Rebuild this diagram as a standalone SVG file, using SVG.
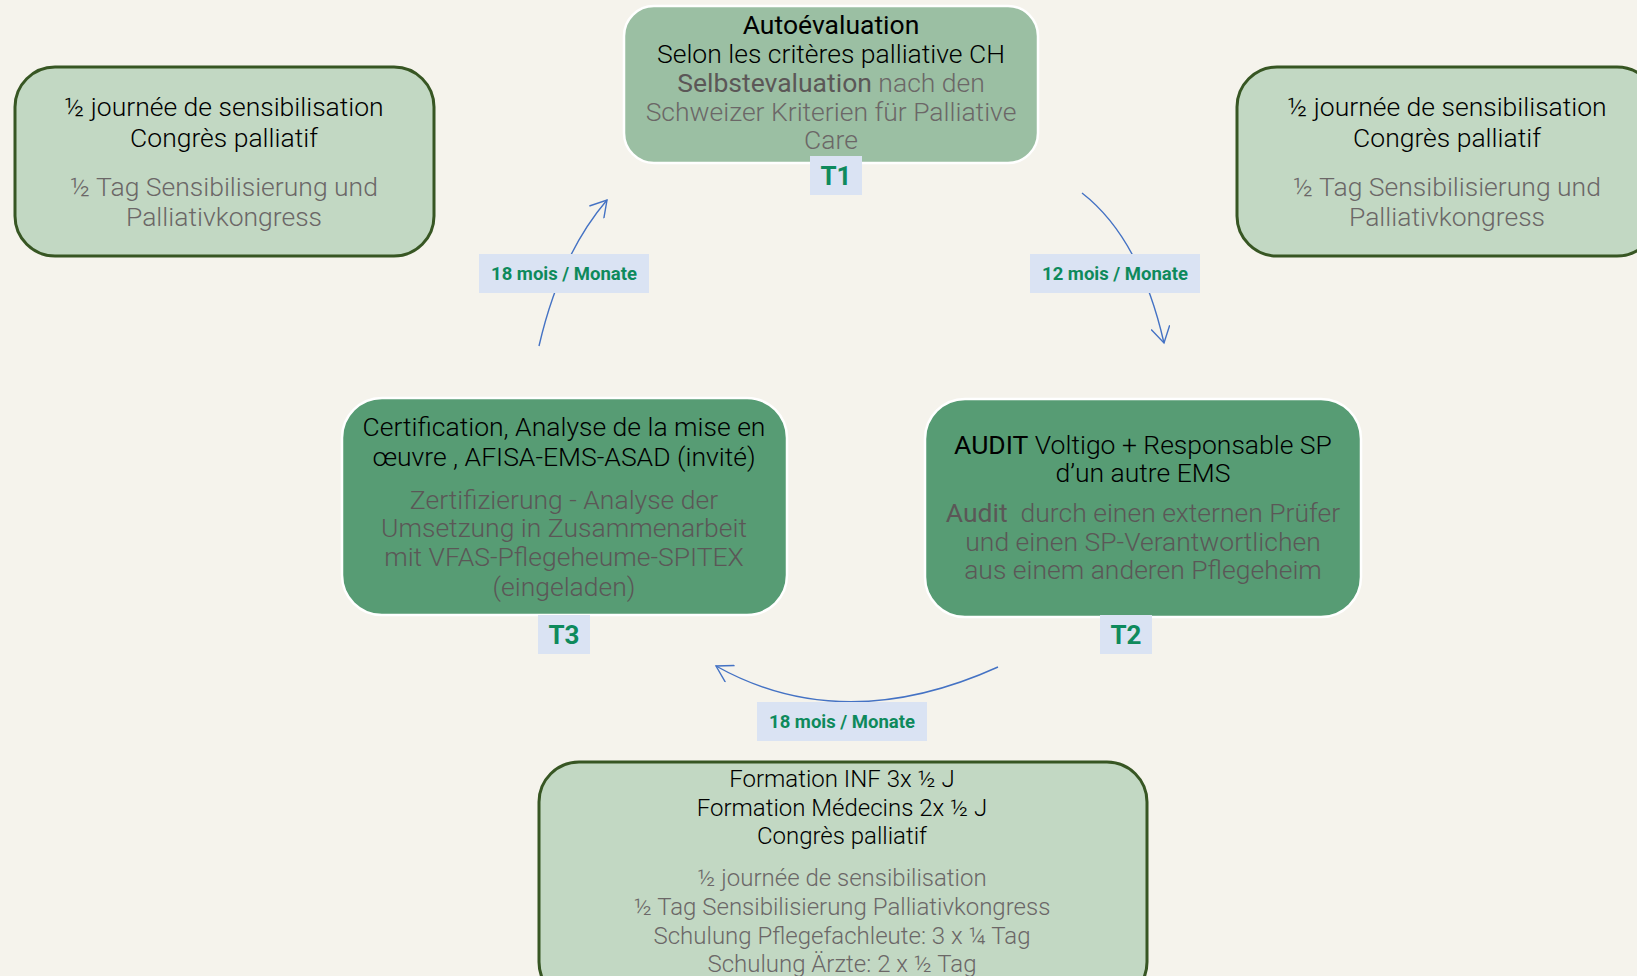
<svg xmlns="http://www.w3.org/2000/svg" width="1637" height="976" viewBox="0 0 1637 976">
<defs>
<style>
.bg{fill:#f5f3ec}
.light{fill:#c2d8c3;stroke:#375623;stroke-width:3}
.mid{fill:#9bbfa3;stroke:#ffffff;stroke-width:2.5}
.dark{fill:#579c74;stroke:#ffffff;stroke-width:2.5}
.tag{fill:#dae3f3}
.t{font-family:Roboto,"Liberation Sans",sans-serif;font-size:26.5px;font-weight:300;text-anchor:middle}
.s{font-size:24px}
.k{fill:#000000}
.g{fill:#6b6767}
.g2{fill:#5b5757}
.b{font-weight:400}
.tl{font-family:Roboto,"Liberation Sans",sans-serif;font-size:26px;font-weight:700;fill:#0e8a5c;text-anchor:middle}
.lb{font-family:Roboto,"Liberation Sans",sans-serif;font-size:18.5px;font-weight:700;fill:#0e8a5c;text-anchor:middle}
.c{fill:none;stroke:#4472c4;stroke-width:1.4}
</style>
<marker id="ah" viewBox="0 0 20 20" refX="18" refY="10" markerWidth="20" markerHeight="20" markerUnits="userSpaceOnUse" orient="auto">
<path d="M2,0.5 L18,10 L2,19.5" fill="none" stroke="#4472c4" stroke-width="1.4"/>
</marker>
</defs>
<rect class="bg" x="0" y="0" width="1637" height="976"/>

<g id="connectors">
<path class="c" d="M539,346 Q560,255 607,200" marker-end="url(#ah)"/>
<path class="c" d="M1082,193 Q1140,238 1164,343" marker-end="url(#ah)"/>
<path class="c" d="M998,667 Q843,737 716,666" marker-end="url(#ah)"/>
<g id="label-18-left">
<rect class="tag" x="479" y="254" width="170" height="39"/>
<text class="lb" x="564" y="280">18 mois / Monate</text>
</g>
<g id="label-12">
<rect class="tag" x="1030" y="254" width="170" height="39"/>
<text class="lb" x="1115" y="280">12 mois / Monate</text>
</g>
<g id="label-18-bottom">
<rect class="tag" x="757" y="702" width="170" height="39"/>
<text class="lb" x="842" y="728">18 mois / Monate</text>
</g>
</g>

<g id="node-left">
<rect class="light" x="15" y="67" width="419" height="189" rx="40"/>
<text class="t k" x="224" y="116">½ journée de sensibilisation</text>
<text class="t k" x="224" y="147">Congrès palliatif</text>
<text class="t g" x="224" y="196">½ Tag Sensibilisierung und</text>
<text class="t g" x="224" y="226">Palliativkongress</text>
</g>

<g id="node-right">
<rect class="light" x="1237" y="67" width="420" height="189" rx="40"/>
<text class="t k" x="1447" y="116">½ journée de sensibilisation</text>
<text class="t k" x="1447" y="147">Congrès palliatif</text>
<text class="t g" x="1447" y="196">½ Tag Sensibilisierung und</text>
<text class="t g" x="1447" y="226">Palliativkongress</text>
</g>

<g id="node-t1">
<rect class="mid" x="624" y="6" width="414" height="157" rx="30"/>
<text class="t k b" x="831" y="34">Autoévaluation</text>
<text class="t k" x="831" y="63">Selon les critères palliative CH</text>
<text class="t g" x="831" y="92"><tspan class="g2 b">Selbstevaluation</tspan> nach den</text>
<text class="t g" x="831" y="121">Schweizer Kriterien für Palliative</text>
<text class="t g" x="831" y="149">Care</text>
<rect class="tag" x="810" y="156" width="52" height="39"/>
<text class="tl" x="836" y="185">T1</text>
</g>

<g id="node-t2">
<rect class="dark" x="925" y="399" width="436" height="218" rx="40"/>
<text class="t k" x="1143" y="454"><tspan class="b">AUDIT</tspan> Voltigo + Responsable SP</text>
<text class="t k" x="1143" y="482">d’un autre EMS</text>
<text class="t g2" x="1143" y="522"><tspan class="b">Audit</tspan>&#160; durch einen externen Prüfer</text>
<text class="t g2" x="1143" y="551">und einen SP-Verantwortlichen</text>
<text class="t g2" x="1143" y="579">aus einem anderen Pflegeheim</text>
<rect class="tag" x="1100" y="615" width="52" height="39"/>
<text class="tl" x="1126" y="644">T2</text>
</g>

<g id="node-t3">
<rect class="dark" x="342" y="398" width="445" height="217" rx="40"/>
<text class="t k" x="564" y="436">Certification, Analyse de la mise en</text>
<text class="t k" x="564" y="466">œuvre , AFISA-EMS-ASAD (invité)</text>
<text class="t g2" x="564" y="509">Zertifizierung - Analyse der</text>
<text class="t g2" x="564" y="537">Umsetzung in Zusammenarbeit</text>
<text class="t g2" x="564" y="566">mit VFAS-Pflegeheume-SPITEX</text>
<text class="t g2" x="564" y="596">(eingeladen)</text>
<rect class="tag" x="538" y="615" width="52" height="39"/>
<text class="tl" x="564" y="644">T3</text>
</g>

<g id="node-bottom">
<rect class="light" x="539" y="762" width="608" height="240" rx="40"/>
<text class="t s k" x="842" y="787">Formation INF 3x ½ J</text>
<text class="t s k" x="842" y="816">Formation Médecins 2x ½ J</text>
<text class="t s k" x="842" y="844">Congrès palliatif</text>
<text class="t s g" x="842" y="886">½ journée de sensibilisation</text>
<text class="t s g" x="842" y="915">½ Tag Sensibilisierung Palliativkongress</text>
<text class="t s g" x="842" y="944">Schulung Pflegefachleute: 3 x ¼ Tag</text>
<text class="t s g" x="842" y="972">Schulung Ärzte: 2 x ½ Tag</text>
</g>
</svg>
